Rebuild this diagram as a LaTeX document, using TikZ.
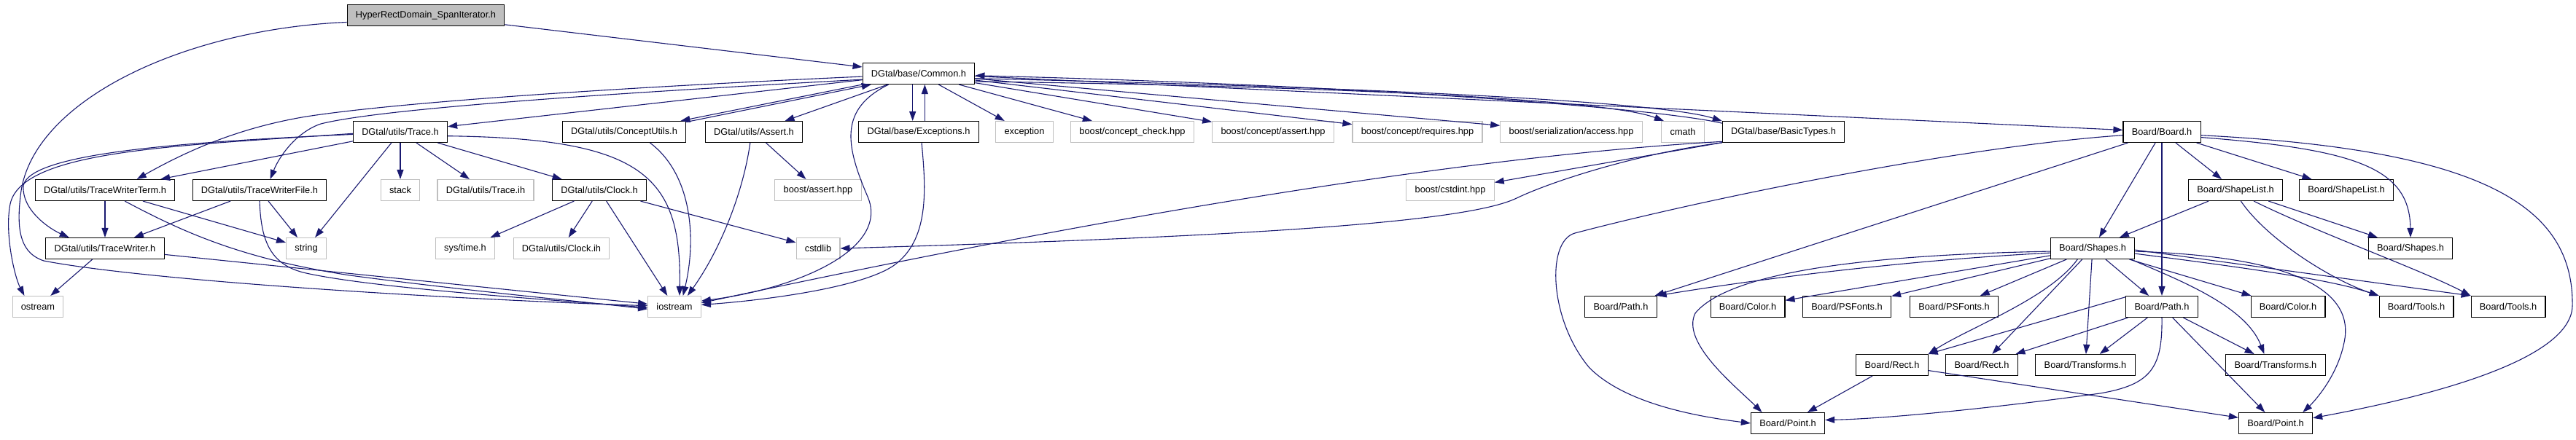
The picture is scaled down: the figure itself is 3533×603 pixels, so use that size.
\documentclass[tikz,border=0pt]{standalone}
\usepackage{fontspec}
\setmainfont{Liberation Sans}
\usetikzlibrary{arrows.meta}
\definecolor{edgeblue}{HTML}{191970}
\definecolor{boxgrey}{HTML}{BFBFBF}
\begin{document}
\begin{tikzpicture}[x=1pt,y=-1pt,>={Triangle[length=13pt,width=9pt]},
  inc/.style={draw=black,line width=1.1pt,fill=white,minimum height=29pt,inner xsep=11.8pt,inner ysep=0pt,
    font=\fontsize{12.8}{15}\selectfont},
  ext/.style={inc,draw=boxgrey},
  cur/.style={inc,fill=boxgrey},
  dep/.style={->,draw=edgeblue,line width=1.1pt}]
  \useasboundingbox (0,0) rectangle (3533,603);

  \node[cur] (top) at (584,21) {HyperRectDomain\_SpanIterator.h};
  \node[inc] (common) at (1260,101) {DGtal/base/Common.h};

  \node[inc] (trace) at (549,181) {DGtal/utils/Trace.h};
  \node[inc] (cutils) at (856,181) {DGtal/utils/ConceptUtils.h};
  \node[inc] (assrt) at (1034,181) {DGtal/utils/Assert.h};
  \node[inc] (excp) at (1260,181) {DGtal/base/Exceptions.h};
  \node[ext] (exception) at (1405,181) {exception};
  \node[ext] (ccheck) at (1553,181) {boost/concept\_check.hpp};
  \node[ext] (cassert) at (1746,181) {boost/concept/assert.hpp};
  \node[ext] (creq) at (1944,181) {boost/concept/requires.hpp};
  \node[ext] (saccess) at (2155,181) {boost/serialization/access.hpp};
  \node[ext] (cmath) at (2308,181) {cmath};
  \node[inc] (btypes) at (2446,181) {DGtal/base/BasicTypes.h};
  \node[inc] (board) at (2965,181) {Board/Board.h};

  \node[inc] (twterm) at (144,261) {DGtal/utils/TraceWriterTerm.h};
  \node[inc] (twfile) at (356,261) {DGtal/utils/TraceWriterFile.h};
  \node[ext] (stack) at (549,261) {stack};
  \node[ext] (traceih) at (666,261) {DGtal/utils/Trace.ih};
  \node[inc] (clock) at (822,261) {DGtal/utils/Clock.h};
  \node[ext] (bassert) at (1122,261) {boost/assert.hpp};
  \node[ext] (cstdint) at (1989,261) {boost/cstdint.hpp};
  \node[inc] (slist) at (3066,261) {Board/ShapeList.h};
  \node[inc] (slistb) at (3218,261) {Board/ShapeList.h};

  \node[inc] (twriter) at (144,341) {DGtal/utils/TraceWriter.h};
  \node[ext] (string) at (420,341) {string};
  \node[ext] (systime) at (638,341) {sys/time.h};
  \node[ext] (clockih) at (770,341) {DGtal/utils/Clock.ih};
  \node[ext] (cstdlib) at (1122,341) {cstdlib};
  \node[inc] (shapes) at (2870,341) {Board/Shapes.h};
  \node[inc] (shapesb) at (3306,341) {Board/Shapes.h};

  \node[ext] (ostream) at (52,421) {ostream};
  \node[ext] (iostream) at (925,421) {iostream};
  \node[inc] (path) at (2223,421) {Board/Path.h};
  \node[inc] (color) at (2397,421) {Board/Color.h};
  \node[inc] (psfonts) at (2533,421) {Board/PSFonts.h};
  \node[inc] (psfontsb) at (2680,421) {Board/PSFonts.h};
  \node[inc] (pathb) at (2965,421) {Board/Path.h};
  \node[inc] (colorb) at (3138,421) {Board/Color.h};
  \node[inc] (tools) at (3314,421) {Board/Tools.h};
  \node[inc] (toolsb) at (3440,421) {Board/Tools.h};

  \node[inc] (rect) at (2595,501) {Board/Rect.h};
  \node[inc] (rectb) at (2718,501) {Board/Rect.h};
  \node[inc] (transf) at (2860,501) {Board/Transforms.h};
  \node[inc] (transfb) at (3121,501) {Board/Transforms.h};

  \node[inc] (point) at (2452,581) {Board/Point.h};
  \node[inc] (pointb) at (3121,581) {Board/Point.h};

  \draw[dep] (top) -- (common);
  \draw[dep] (top.185) .. controls (250,40) and (40,140) .. (28,270) .. controls (22,320) and (30,348) .. (60,358) .. controls (200,385) and (600,410) .. (iostream.178);

  \draw[dep] (common.183) .. controls (850,120) and (550,140) .. (420,160) .. controls (330,175) and (260,205) .. (twterm.19);
  \draw[dep] (common.186) .. controls (800,130) and (520,150) .. (440,170) .. controls (410,180) and (385,210) .. (twfile.46);
  \draw[dep] (common) -- (trace);
  \draw[dep] (common.191) -- (cutils.11);
  \draw[dep] (cutils.9) -- (common.193);
  \draw[dep] (common) -- (assrt);
  \draw[dep] (common.200) .. controls (1150,150) and (1160,200) .. (1190,270) .. controls (1220,340) and (1100,395) .. (iostream.12);
  \draw[dep] (common.241) -- (excp.119);
  \draw[dep] (excp.61) -- (common.299);
  \draw[dep] (common) -- (exception);
  \draw[dep] (common) -- (ccheck);
  \draw[dep] (common) -- (cassert);
  \draw[dep] (common) -- (creq);
  \draw[dep] (common) -- (saccess);
  \draw[dep] (common.352) .. controls (1800,118) and (2200,135) .. (cmath.150);
  \draw[dep] (common.355) .. controls (1900,120) and (2280,140) .. (btypes.170);
  \draw[dep] (btypes.172) .. controls (2280,150) and (1900,118) .. (common.358);
  \draw[dep] (common) -- (board);

  \draw[dep] (trace.182) .. controls (250,200) and (30,205) .. (14,280) .. controls (6,320) and (20,380) .. (ostream.141);
  \draw[dep] (trace.183) .. controls (250,195) and (40,210) .. (32,255) .. controls (30,290) and (70,315) .. (twriter.163);
  \draw[dep] (trace) -- (twterm);
  \draw[dep] (trace) -- (stack);
  \draw[dep] (trace) -- (traceih);
  \draw[dep] (trace) -- (clock);
  \draw[dep] (trace) -- (string);
  \draw[dep] (trace.355) .. controls (880,190) and (935,240) .. (iostream.65);

  \draw[dep] (cutils.337) .. controls (950,240) and (955,330) .. (iostream.52);
  \draw[dep] (assrt) -- (bassert);
  \draw[dep] (assrt.251) .. controls (1020,260) and (990,340) .. (iostream.40);
  \draw[dep] (excp.285) .. controls (1270,260) and (1275,330) .. (1225,365) .. controls (1180,395) and (1050,412) .. (iostream.4);

  \draw[dep] (btypes) -- (cstdint);
  \draw[dep] (btypes.189) .. controls (2000,215) and (1500,300) .. (iostream.8);
  \draw[dep] (btypes.190) .. controls (2250,210) and (2130,248) .. (2080,272) .. controls (2010,306) and (1700,325) .. (cstdlib.east);

  \draw[dep] (twterm) -- (twriter);
  \draw[dep] (twterm) -- (string);
  \draw[dep] (twterm.331) .. controls (250,318) and (330,355) .. (480,378) .. controls (630,398) and (780,412) .. (iostream.185);
  \draw[dep] (twfile) -- (twriter);
  \draw[dep] (twfile) -- (string);
  \draw[dep] (twfile.south) .. controls (358,330) and (370,364) .. (420,375) .. controls (520,397) and (780,413) .. (iostream.182);
  \draw[dep] (twriter) -- (ostream);
  \draw[dep] (twriter) -- (iostream);

  \draw[dep] (clock) -- (systime);
  \draw[dep] (clock) -- (clockih);
  \draw[dep] (clock) -- (iostream);
  \draw[dep] (clock) -- (cstdlib);

  \draw[dep] (board) -- (path);
  \draw[dep] (board.185) .. controls (2700,200) and (2350,270) .. (2160,320) .. controls (2120,331) and (2125,440) .. (2180,505) .. controls (2230,555) and (2330,572) .. (point.west);
  \draw[dep] (board) -- (shapes);
  \draw[dep] (board) -- (pathb);
  \draw[dep] (board) -- (slist);
  \draw[dep] (board) -- (slistb);
  \draw[dep] (board.352) .. controls (3230,205) and (3305,230) .. (shapesb.north);
  \draw[dep] (board.355) .. controls (3400,205) and (3530,280) .. (3528,420) .. controls (3526,500) and (3300,550) .. (pointb.8);

  \draw[dep] (slist) -- (shapes);
  \draw[dep] (slist.296) .. controls (3110,330) and (3200,385) .. (tools.north west);
  \draw[dep] (slist.329) .. controls (3180,320) and (3320,370) .. (toolsb.north west);
  \draw[dep] (slist) -- (shapesb);

  \draw[dep] (shapes.184) .. controls (2550,350) and (2370,375) .. (2325,430) .. controls (2305,470) and (2380,530) .. (point.157);
  \draw[dep] (shapes.186) .. controls (2600,358) and (2400,385) .. (path.north east);
  \draw[dep] (shapes) -- (color);
  \draw[dep] (shapes) -- (psfonts);
  \draw[dep] (shapes) -- (psfontsb);
  \draw[dep] (shapes.216) .. controls (2810,410) and (2700,450) .. (rect.north east);
  \draw[dep] (shapes) -- (rectb);
  \draw[dep] (shapes) -- (transf);
  \draw[dep] (shapes) -- (pathb);
  \draw[dep] (shapes) -- (colorb);
  \draw[dep] (shapes.344) .. controls (2990,385) and (3080,420) .. (transfb.136);
  \draw[dep] (shapes.356) .. controls (3150,352) and (3230,400) .. (3215,470) .. controls (3205,520) and (3170,555) .. (pointb.22);
  \draw[dep] (shapes.353) .. controls (3100,370) and (3200,385) .. (tools.north west);
  \draw[dep] (shapes.358) -- (toolsb.north west);

  \draw[dep] (pathb.165) -- (rect.north east);
  \draw[dep] (pathb) -- (rectb);
  \draw[dep] (pathb) -- (transf);
  \draw[dep] (pathb) -- (transfb);
  \draw[dep] (pathb.south) .. controls (2966,505) and (2950,528) .. (2880,540) .. controls (2720,562) and (2580,575) .. (point.5);
  \draw[dep] (pathb) -- (pointb);

  \draw[dep] (rect) -- (point);
  \draw[dep] (rect) -- (pointb);
\end{tikzpicture}
\end{document}
